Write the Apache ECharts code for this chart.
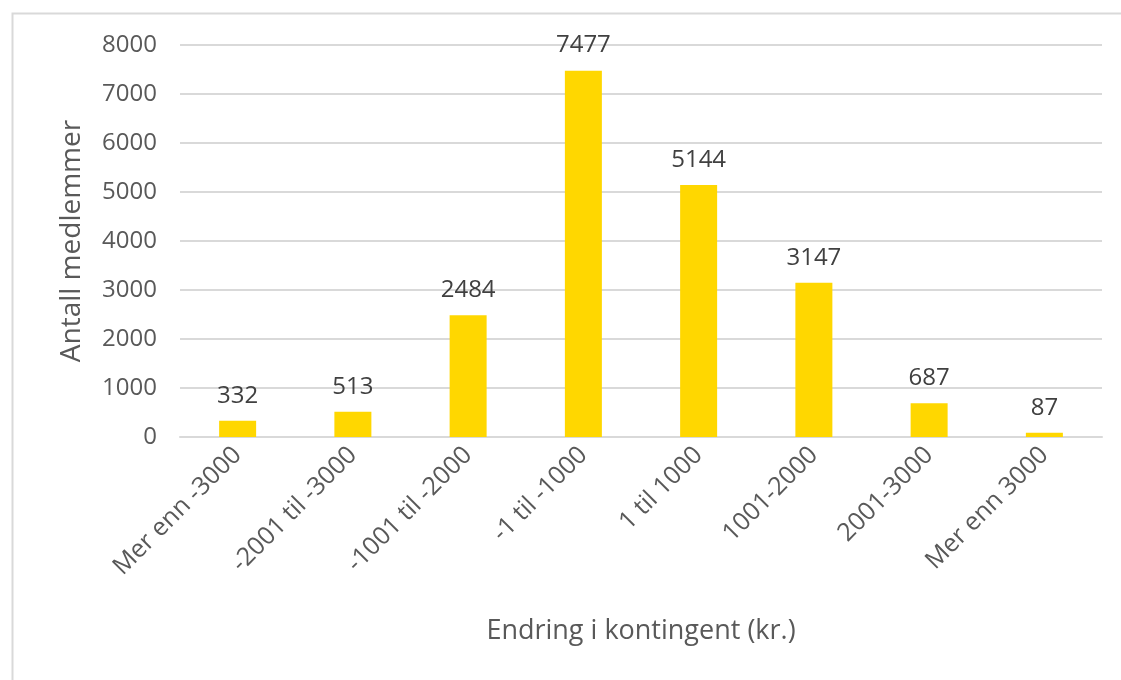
<!DOCTYPE html>
<html>
<head>
<meta charset="utf-8">
<script src="https://cdn.jsdelivr.net/npm/echarts@6/dist/echarts.min.js"></script>
<style>
html,body{margin:0;padding:0;background:#fff;}
#c{width:1121px;height:680px;}
</style>
</head>
<body>
<div id="c"></div>
<script>
const categories = ["Mer enn -3000", "-2001 til -3000", "-1001 til -2000", "-1 til -1000", "1 til 1000", "1001-2000", "2001-3000", "Mer enn 3000"];
const values = [332, 513, 2484, 7477, 5144, 3147, 687, 87];
const yTicks = [0, 1000, 2000, 3000, 4000, 5000, 6000, 7000, 8000];
const yTitle = "Antall medlemmer";
const xTitle = "Endring i kontingent (kr.)";

const font = "Open Sans, Liberation Sans, sans-serif";
const chart = echarts.init(document.getElementById('c'), null, {renderer: 'canvas'});
chart.setOption({
  animation: false,
  backgroundColor: '#ffffff',
  graphic: [{
    type: 'rect', left: 10, top: 11,
    shape: {width: 1200, height: 800},
    style: {fill: 'none', stroke: '#d9d9d9', lineWidth: 2},
    silent: true, z: -1
  }, {
    type: 'text', x: 72, y: 241,
    rotation: Math.PI / 2,
    style: {text: yTitle, font: '28px ' + font, fill: '#595959', align: 'center', verticalAlign: 'middle'}
  }],
  grid: {left: 180, right: 19, top: 45, bottom: 243, containLabel: false},
  xAxis: {
    type: 'category',
    data: categories,
    axisTick: {show: false},
    axisLine: {show: true, lineStyle: {color: '#d9d9d9', width: 2}},
    axisLabel: {rotate: 45, color: '#595959', fontSize: 25, fontFamily: font, margin: 14, interval: 0},
    name: xTitle,
    nameLocation: 'middle',
    nameGap: 181,
    nameTextStyle: {color: '#595959', fontSize: 27, fontFamily: font}
  },
  yAxis: {
    type: 'value',
    min: 0, max: 8000, interval: 1000,
    axisLine: {show: false},
    axisTick: {show: false},
    splitLine: {lineStyle: {color: '#d9d9d9', width: 2}},
    axisLabel: {color: '#595959', fontSize: 24, fontFamily: font, margin: 23,
      formatter: v => yTicks.includes(v) ? String(v) : ''}
  },
  series: [{
    type: 'bar',
    data: values,
    barWidth: 37,
    itemStyle: {color: '#FFD700'},
    label: {show: true, position: 'top', distance: 13, color: '#404040', fontSize: 24, fontFamily: font}
  }]
});
</script>
</body>
</html>
